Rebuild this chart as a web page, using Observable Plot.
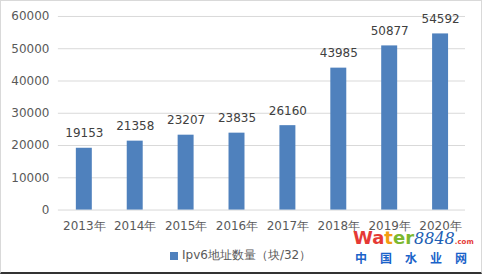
<!DOCTYPE html>
<html><head><meta charset="utf-8">
<script src="https://cdn.jsdelivr.net/npm/d3@7"></script>
<script src="https://cdn.jsdelivr.net/npm/@observablehq/plot@0.6"></script>
<style>
body{margin:0;background:#fff;}
#wrap{position:relative;width:482px;height:274px;box-sizing:border-box;border:1px solid #d9d9d9;border-bottom:2px solid #333;overflow:hidden;font-family:"DejaVu Sans",sans-serif;}
#chart{position:absolute;left:-1px;top:-1px;}
#legend{position:absolute;left:169px;top:246px;font-size:12px;color:#595959;display:flex;align-items:center;white-space:nowrap;}
#legend span.sw{display:inline-block;width:8px;height:8px;background:#4f81bd;margin-right:4px;}
#wm1{position:absolute;left:352px;top:228px;line-height:18px;font-family:"DejaVu Sans",sans-serif;font-weight:bold;font-size:18px;white-space:nowrap;}
#wm2{position:absolute;left:354px;top:250px;line-height:13px;font-family:"Noto Sans CJK SC",sans-serif;font-weight:bold;font-size:12px;color:#1a63c9;letter-spacing:13px;white-space:nowrap;}
</style></head>
<body>
<div id="wrap">
<div id="chart"></div>
<div id="legend"><span class="sw"></span><span id="ltxt"></span></div>
<div id="wm1"><span style="color:#e53935">Wa</span><span style="color:#f39c12">t</span><span style="color:#7cb82f">er</span><span style="color:#1e5fb4;font-family:'DejaVu Serif',serif;font-style:italic;font-weight:normal;font-size:16px">8848</span><span style="color:#e53935;font-size:7px">.com</span></div>
<div id="wm2">中国水业网</div>
</div>
<script>
const years = ["2013年","2014年","2015年","2016年","2017年","2018年","2019年","2020年"];
const counts = [19153, 21358, 23207, 23835, 26160, 43985, 50877, 54592];
const yTicks = [0, 10000, 20000, 30000, 40000, 50000, 60000];
const seriesName = "Ipv6地址数量（块/32）";

const data = years.map((y, i) => ({year: y, value: counts[i]}));
document.getElementById("ltxt").textContent = seriesName;

const chart = Plot.plot({
  width: 482,
  height: 240,
  marginLeft: 58,
  marginRight: 16,
  marginTop: 16,
  marginBottom: 30,
  style: {fontFamily: "DejaVu Sans, sans-serif", fontSize: "12px", color: "#595959", background: "transparent"},
  x: {domain: years, paddingInner: 0.69, paddingOuter: 0.345, label: null},
  y: {domain: [0, 60000], label: null},
  marks: [
    Plot.gridY(yTicks, {stroke: "#d9d9d9", strokeOpacity: 1}),
    Plot.axisY({ticks: yTicks, tickSize: 0, tickPadding: 9, tickFormat: d => String(d), fill: "#595959", label: null}),
    Plot.axisX({tickSize: 0, tickPadding: 11, fill: "#595959", label: null}),
    Plot.barY(data, {x: "year", y: "value", fill: "#4f81bd"}),
    Plot.text(data, {x: "year", y: "value", text: d => String(d.value), dy: -15, fill: "#404040", fontSize: 12})
  ]
});
document.getElementById("chart").appendChild(chart);
</script>
</body></html>
